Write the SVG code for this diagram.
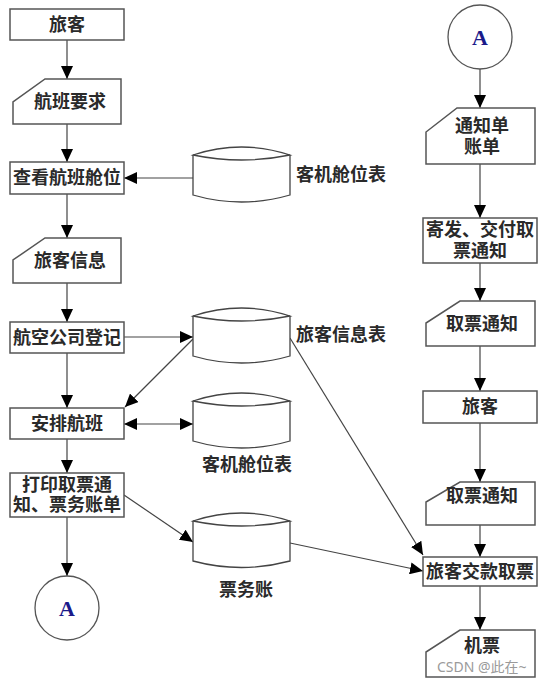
<svg xmlns="http://www.w3.org/2000/svg" width="539" height="680" viewBox="0 0 539 680">
<defs>
<marker id="ah" markerUnits="userSpaceOnUse" markerWidth="13" markerHeight="12" refX="13" refY="6" orient="auto-start-reverse">
<path d="M0,0 L13,6 L0,12 Z" fill="#000"/>
</marker>
</defs>
<style>
.box{fill:#fff;stroke:#555;stroke-width:1.5}
.cyl{fill:#fff;stroke:#444;stroke-width:1.3}
.t{font-family:"Liberation Serif","Noto Sans CJK SC",serif;font-size:18px;fill:#2a2a2a;text-anchor:middle;dominant-baseline:central;font-weight:bold}
.lbl{font-family:"Liberation Serif","Noto Sans CJK SC",serif;font-size:18px;fill:#2a2a2a;dominant-baseline:central;font-weight:bold}
.a{font-family:"Liberation Serif","Times New Roman",serif;font-size:22px;font-weight:bold;fill:#1a1a8a;text-anchor:middle;dominant-baseline:central}
.c{fill:none;stroke:#444;stroke-width:1.2;marker-end:url(#ah)}
</style>
<rect width="539" height="680" fill="#fff"/>

<g id="connectors">
<line class="c" x1="67" y1="40" x2="67" y2="79"/>
<line class="c" x1="67" y1="124" x2="67" y2="162"/>
<line class="c" x1="193" y1="178" x2="124" y2="178"/>
<line class="c" x1="67" y1="194" x2="67" y2="238"/>
<line class="c" x1="67" y1="283" x2="67" y2="322"/>
<line class="c" x1="124" y1="337" x2="193" y2="337"/>
<line class="c" x1="67" y1="353" x2="67" y2="408"/>
<line class="c" x1="193" y1="339" x2="125" y2="407"/>
<line class="c" x1="124" y1="424" x2="193" y2="424" marker-start="url(#ah)"/>
<line class="c" x1="67" y1="439" x2="67" y2="473"/>
<line class="c" x1="124" y1="495" x2="193" y2="542"/>
<line class="c" x1="67" y1="517" x2="67" y2="576"/>
<line class="c" x1="290" y1="338" x2="423" y2="555"/>
<line class="c" x1="290" y1="543" x2="423" y2="571"/>
<line class="c" x1="480" y1="69" x2="480" y2="108"/>
<line class="c" x1="480" y1="164" x2="480" y2="218"/>
<line class="c" x1="480" y1="263" x2="480" y2="301"/>
<line class="c" x1="480" y1="346" x2="480" y2="391"/>
<line class="c" x1="480" y1="423" x2="480" y2="482"/>
<line class="c" x1="480" y1="525" x2="480" y2="557"/>
<line class="c" x1="480" y1="586" x2="480" y2="630"/>
</g>

<g id="n-lvke1"><rect class="box" x="10" y="9" width="114" height="31"/><text class="t" x="67" y="25">旅客</text></g>
<g id="n-hbyq"><path class="box" d="M45,79 L121,79 L121,124 L13,124 L13,102 Z"/><text class="t" x="70" y="102">航班要求</text></g>
<g id="n-ckhbcw"><rect class="box" x="10" y="162" width="114" height="32"/><text class="t" x="67" y="178">查看航班舱位</text></g>
<g id="n-kjcwb1">
<path class="cyl" d="M193,155 L193,195 Q241.5,209 290,195 L290,155"/>
<path class="cyl" d="M193,155 Q241.5,139 290,155 Q241.5,165 193,155 Z"/>
<text class="lbl" x="296" y="175">客机舱位表</text>
</g>
<g id="n-lkxx"><path class="box" d="M45,238 L121,238 L121,283 L13,283 L13,260 Z"/><text class="t" x="70" y="261">旅客信息</text></g>
<g id="n-hkgsdj"><rect class="box" x="10" y="322" width="114" height="31"/><text class="t" x="67" y="338">航空公司登记</text></g>
<g id="n-lkxxb">
<path class="cyl" d="M193,316 L193,356 Q241.5,370 290,356 L290,316"/>
<path class="cyl" d="M193,316 Q241.5,300 290,316 Q241.5,326 193,316 Z"/>
<text class="lbl" x="296" y="335">旅客信息表</text>
</g>
<g id="n-aphb"><rect class="box" x="10" y="408" width="114" height="31"/><text class="t" x="67" y="424">安排航班</text></g>
<g id="n-kjcwb2">
<path class="cyl" d="M193,401 L193,441 Q241.5,455 290,441 L290,401"/>
<path class="cyl" d="M193,401 Q241.5,385 290,401 Q241.5,411 193,401 Z"/>
<text class="lbl" x="202" y="465">客机舱位表</text>
</g>
<g id="n-dyqp"><rect class="box" x="10" y="473" width="114" height="44"/><text class="t" x="67" y="485">打印取票通</text><text class="t" x="67" y="505">知、票务账单</text></g>
<g id="n-pwz">
<path class="cyl" d="M193,521 L193,561 Q241.5,574 290,561 L290,521"/>
<path class="cyl" d="M193,521 Q241.5,505 290,521 Q241.5,531 193,521 Z"/>
<text class="lbl" x="219" y="590">票务账</text>
</g>
<g id="n-a1"><circle cx="67" cy="608" r="32" fill="#fff" stroke="#555" stroke-width="1.3"/><text class="a" x="67" y="608">A</text></g>

<g id="n-a2"><circle cx="480" cy="37" r="32" fill="#fff" stroke="#555" stroke-width="1.3"/><text class="a" x="480" y="37">A</text></g>
<g id="n-tzd"><path class="box" d="M457,108 L535,108 L535,164 L426,164 L426,132 Z"/><text class="t" x="482" y="126">通知单</text><text class="t" x="482" y="147">账单</text></g>
<g id="n-jf"><rect class="box" x="423" y="218" width="114" height="45"/><text class="t" x="480" y="230">寄发、交付取</text><text class="t" x="480" y="251">票通知</text></g>
<g id="n-qptz1"><path class="box" d="M460,301 L535,301 L535,346 L426,346 L426,323 Z"/><text class="t" x="482" y="324">取票通知</text></g>
<g id="n-lvke2"><rect class="box" x="423" y="391" width="114" height="32"/><text class="t" x="480" y="407">旅客</text></g>
<g id="n-qptz2"><path class="box" d="M460,482 L535,482 L535,525 L426,525 L426,502 Z"/><text class="t" x="482" y="496">取票通知</text></g>
<g id="n-lkjk"><rect class="box" x="423" y="557" width="114" height="29"/><text class="t" x="480" y="572">旅客交款取票</text></g>
<g id="n-jp"><path class="box" d="M460,630 L535,630 L535,677 L426,677 L426,652 Z"/><text class="t" x="482" y="646">机票</text></g>

<text x="437" y="666" font-family="'Noto Sans','Noto Sans CJK SC',sans-serif" font-size="14" fill="#9a9a9a" dominant-baseline="central">CSDN @此在~</text>
</svg>
